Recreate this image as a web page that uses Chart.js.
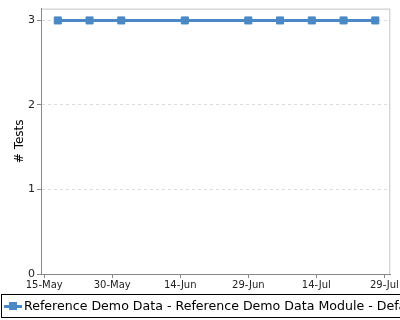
<!DOCTYPE html>
<html>
<head>
<meta charset="utf-8">
<script src="https://cdn.jsdelivr.net/npm/chart.js@4.4.0/dist/chart.umd.min.js"></script>
<style>
    html, body { margin: 0; padding: 0; background: #fff; }
    #wrap { position: relative; width: 400px; height: 320px; font-family: "DejaVu Sans", sans-serif; }
    #box { position: absolute; left: 0; top: 0; width: 400px; height: 292px; }
    #legend {
        position: absolute; left: 1px; top: 294px; width: 420px; height: 22px;
        border: 1px solid #000; white-space: nowrap; overflow: hidden;
        font-size: 12.6px; line-height: 22px; color: #000;
    }
    #legend .sym { position: absolute; left: 2px; top: 10px; width: 18px; height: 3px; background: #4a89c5; }
    #legend .sym i { position: absolute; left: 5px; top: -3px; width: 8px; height: 8px; background: #4a89c5; }
    #legend .txt { position: absolute; left: 22px; top: 0; }
    #clip { position: absolute; left: 0; top: 0; width: 400px; height: 320px; overflow: hidden; }
</style>
</head>
<body>
<div id="wrap">
    <div id="box"><canvas id="chart"></canvas></div>
    <div id="clip">
        <div id="legend"><span class="sym"><i></i></span><span class="txt" id="legendText"></span></div>
    </div>
</div>
<script>
// Days counted from 15-May
const runDays = [3, 10, 17, 31, 45, 52, 59, 66, 73];
const testCounts = [3, 3, 3, 3, 3, 3, 3, 3, 3];
const tickDays = [0, 15, 30, 45, 60, 75];
const tickLabels = ['15-May', '30-May', '14-Jun', '29-Jun', '14-Jul', '29-Jul'];
const yTicks = [0, 1, 2, 3];
const seriesName = 'Reference Demo Data - Reference Demo Data Module - Default';

const LINE_COLOR = '#4a89c5';

// Light frame around the plot (top/right), axes draw left/bottom on top
const framePlugin = {
    id: 'frame',
    beforeDraw(chart) {
        const a = chart.chartArea;
        const ctx = chart.ctx;
        ctx.save();
        ctx.strokeStyle = '#c4c4c4';
        ctx.lineWidth = 1;
        ctx.strokeRect(a.left + 0.5, a.top + 0.5, a.right - a.left - 1, a.bottom - a.top);
        ctx.restore();
    }
};

document.getElementById('legendText').textContent = seriesName;

const ctx = document.getElementById('chart').getContext('2d');
new Chart(ctx, {
    type: 'line',
    data: {
        datasets: [{
            label: seriesName,
            data: runDays.map((d, i) => ({ x: d, y: testCounts[i] })),
            borderColor: LINE_COLOR,
            backgroundColor: LINE_COLOR,
            borderWidth: 3,
            pointStyle: 'rect',
            pointRadius: 5,
            pointBorderWidth: 1,
            tension: 0
        }]
    },
    options: {
        responsive: true,
        maintainAspectRatio: false,
        animation: false,
        layout: { padding: { top: 6, right: 8, left: 0, bottom: 0 } },
        plugins: {
            legend: { display: false },
            tooltip: { enabled: false }
        },
        scales: {
            x: {
                type: 'linear',
                min: -0.7,
                max: 76.3,
                afterBuildTicks: (scale) => {
                    scale.ticks = tickDays.map(v => ({ value: v }));
                },
                afterFit: (scale) => { scale.height = 18; },
                grid: {
                    drawOnChartArea: false,
                    drawTicks: true,
                    tickLength: 4,
                    tickColor: '#888'
                },
                border: { color: '#888' },
                ticks: {
                    color: '#222',
                    font: { family: 'DejaVu Sans', size: 10 },
                    padding: 1,
                    maxRotation: 0,
                    autoSkip: false,
                    callback: (value) => {
                        const idx = tickDays.indexOf(value);
                        return idx >= 0 ? tickLabels[idx] : '';
                    }
                }
            },
            y: {
                min: 0,
                max: 3.14,
                afterBuildTicks: (scale) => {
                    scale.ticks = yTicks.map(v => ({ value: v }));
                },
                afterFit: (scale) => { scale.width = 41; },
                grid: {
                    color: '#dddddd',
                    tickColor: '#888',
                    tickLength: 4,
                    tickBorderDash: []
                },
                border: { color: '#888', dash: [3, 3] },
                title: {
                    display: true,
                    text: '# Tests',
                    color: '#000',
                    font: { family: 'DejaVu Sans', size: 12 },
                    padding: { top: 13, bottom: 0 }
                },
                ticks: {
                    color: '#222',
                    font: { family: 'DejaVu Sans', size: 11 },
                    padding: 2
                }
            }
        }
    },
    plugins: [framePlugin]
});
</script>
</body>
</html>
